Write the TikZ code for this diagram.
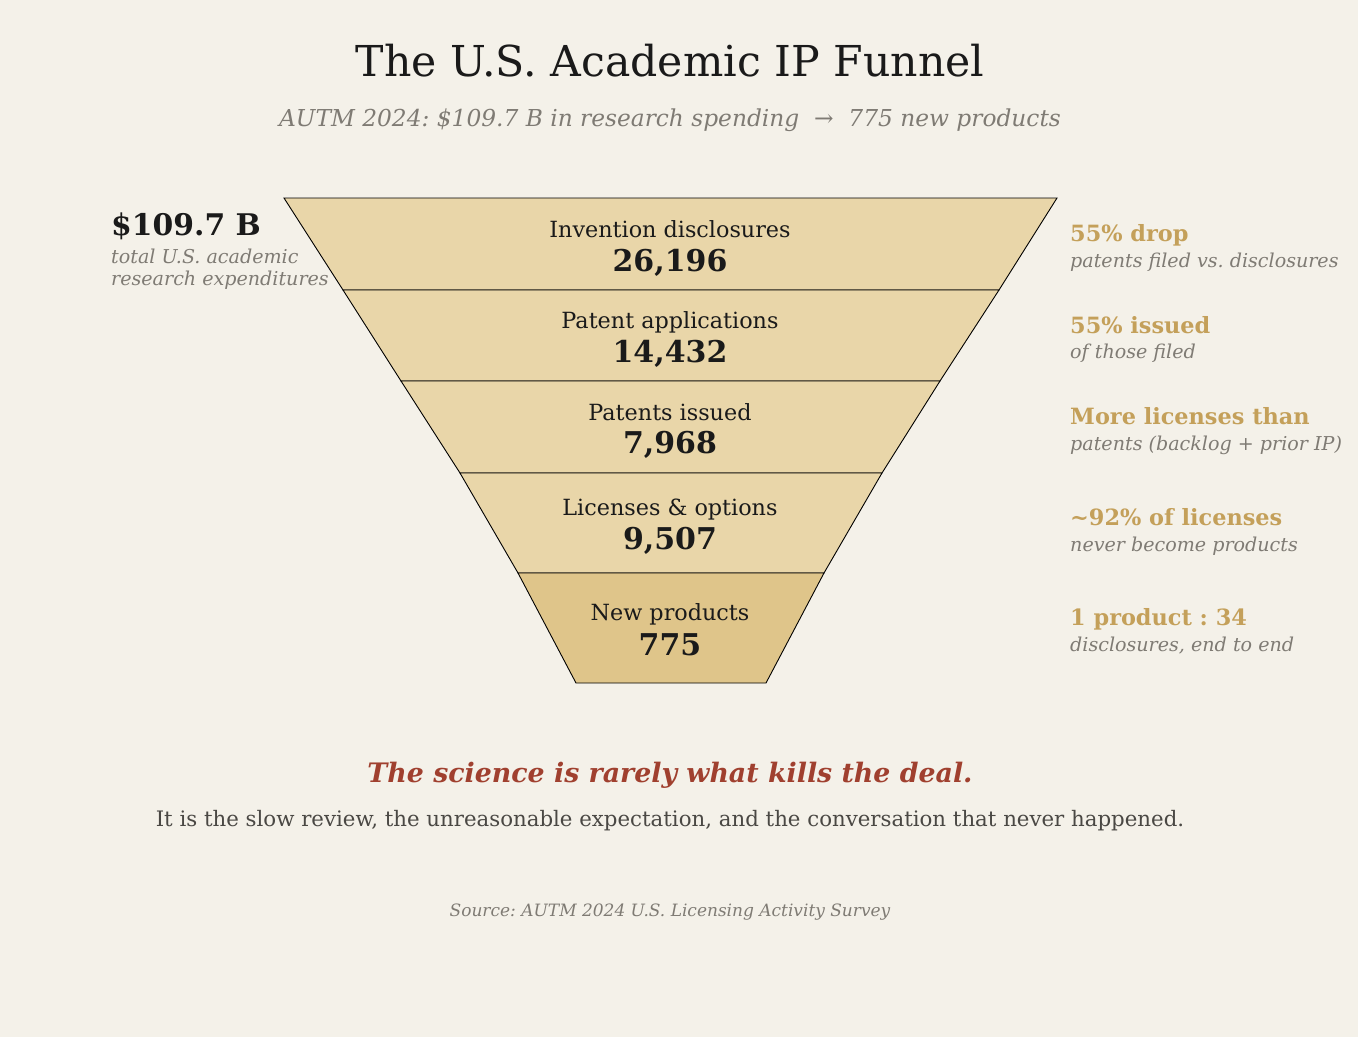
\documentclass[tikz,border=0pt]{standalone}
\usepackage{fontspec}
\setmainfont{DejaVu Serif}
\frenchspacing
\definecolor{bg}{HTML}{F4F1E9}
\definecolor{band}{HTML}{E9D6A9}
\definecolor{bandlast}{HTML}{DFC58A}
\definecolor{gold}{HTML}{C4A05A}
\definecolor{note}{HTML}{7F7B74}
\definecolor{deal}{HTML}{A0402F}
\definecolor{ink}{HTML}{1A1A1A}
\definecolor{body}{HTML}{4A4844}
\tikzset{
  txt/.style={inner sep=0pt, anchor=base},
  stage/.style={txt, text=ink, font=\fontsize{22.3}{26}\selectfont},
  count/.style={txt, text=ink, font=\fontsize{30}{34}\selectfont\bfseries},
  head/.style={txt, anchor=base west, text=gold, font=\fontsize{22.4}{26}\selectfont\bfseries},
  sub/.style={txt, anchor=base west, text=note, font=\fontsize{19.1}{22}\selectfont\itshape},
  band/.style={fill=band, draw=black, line width=0.9pt, line join=miter}
}
\begin{document}
\begin{tikzpicture}[x=1pt,y=-1pt]
\fill[bg] (0,0) rectangle (1358,1037);
\useasboundingbox (0,0) rectangle (1358,1037);
% title
\node[txt, text=ink, font=\fontsize{42.6}{50}\selectfont] (title) at (670,76) {The U.S. Academic IP Funnel};
\node[txt, text=note, font=\fontsize{23.3}{27}\selectfont\itshape] (subtitle) at (670,126) {AUTM 2024: \$109.7 B in research spending~~→~~775 new products};
% funnel
\draw[band] (284,198) -- (1057,198) -- (999,290) -- (343,290) -- cycle;
\draw[band] (343,290) -- (999,290) -- (940,381) -- (401,381) -- cycle;
\draw[band] (401,381) -- (940,381) -- (882,473) -- (460,473) -- cycle;
\draw[band] (460,473) -- (882,473) -- (824,573) -- (518,573) -- cycle;
\draw[band, fill=bandlast] (518,573) -- (824,573) -- (766,683) -- (576,683) -- cycle;
\node[stage] (s1) at (670,237) {Invention disclosures};
\node[count] (n1) at (670,271) {26,196};
\node[stage] (s2) at (670,328) {Patent applications};
\node[count] (n2) at (670,362) {14,432};
\node[stage] (s3) at (670,420) {Patents issued};
\node[count] (n3) at (670,453) {7,968};
\node[stage] (s4) at (670,515) {Licenses \& options};
\node[count] (n4) at (670,549) {9,507};
\node[stage] (s5) at (670,620) {New products};
\node[count] (n5) at (670,655) {775};
% left note
\node[txt, anchor=base west, text=ink, font=\fontsize{29.8}{34}\selectfont\bfseries] (spend) at (111,235) {\$109.7 B};
\node[sub] (spend1) at (111,263) {total U.S. academic};
\node[sub] (spend2) at (111,285) {research expenditures};
% right notes
\node[head] (h1) at (1070,241) {55\% drop};
\node[sub] (d1) at (1070,267) {patents filed vs. disclosures};
\node[head] (h2) at (1070,333) {55\% issued};
\node[sub] (d2) at (1070,358) {of those filed};
\node[head] (h3) at (1070,424) {More licenses than};
\node[sub] (d3) at (1070,450) {patents (backlog + prior IP)};
\node[head] (h4) at (1070,525) {\textasciitilde 92\% of licenses};
\node[sub] (d4) at (1070,551) {never become products};
\node[head] (h5) at (1070,625) {1 product : 34};
\node[sub] (d5) at (1070,651) {disclosures, end to end};
% bottom
\node[txt, text=deal, font=\fontsize{26.8}{30}\selectfont\bfseries\itshape] (moral) at (670,782) {The science is rarely what kills the deal.};
\node[txt, text=body, font=\fontsize{21.3}{25}\selectfont] (moral2) at (670,826) {It is the slow review, the unreasonable expectation, and the conversation that never happened.};
\node[txt, text=note, font=\fontsize{17}{20}\selectfont\itshape] (source) at (670,916) {Source: AUTM 2024 U.S. Licensing Activity Survey};
\end{tikzpicture}
\end{document}
